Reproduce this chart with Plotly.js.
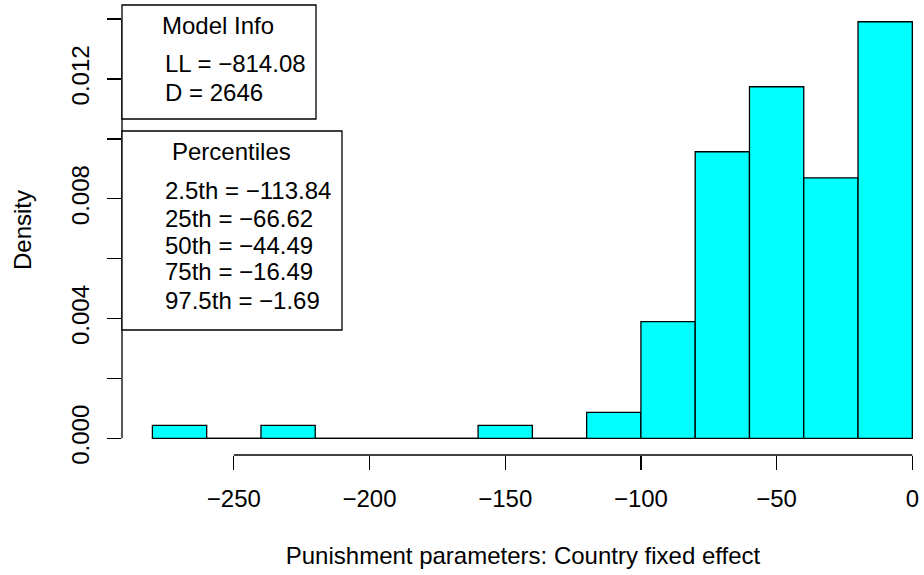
<!DOCTYPE html>
<html>
<head>
<meta charset="utf-8">
<script src="https://cdn.plot.ly/plotly-3.0.1.min.js"></script>
<style>
  html, body { margin: 0; padding: 0; background: #ffffff; overflow: hidden; }
  #chart { width: 924px; height: 575px; }
</style>
</head>
<body>
<div id="chart"></div>
<script>
// ---- Data ----
var binStarts = [-280, -260, -240, -220, -200, -180, -160, -140, -120, -100, -80, -60, -40, -20];
var binWidth = 20;
var densities = [0.000435, 0, 0.000435, 0, 0, 0, 0.000435, 0, 0.00087, 0.0039, 0.00957, 0.01174, 0.0087, 0.01391];

var xTickVals = [-250, -200, -150, -100, -50, 0];
var xTickText = ["\u2212250", "\u2212200", "\u2212150", "\u2212100", "\u221250", "0"];
var yTickVals = [0, 0.002, 0.004, 0.006, 0.008, 0.010, 0.012, 0.014];
var yTickText = ["0.000", "", "0.004", "", "0.008", "", "0.012", ""];

var modelInfoTitle = "Model Info";
var modelInfoLines = ["LL = \u2212814.08", "D = 2646"];
var percTitle = "Percentiles";
var percLines = ["2.5th = \u2212113.84", "25th = \u221266.62", "50th = \u221244.49", "75th = \u221216.49", "97.5th = \u22121.69"];

var xTitle = "Punishment parameters: Country fixed effect";
var yTitle = "Density";

// ---- Layout geometry (pixels) ----
var W = 924, H = 575;
var L = 122, R = 0, T = 5, B = 120;
var plotW = W - L - R, plotH = H - T - B;
function px(xp) { return (xp - L) / plotW; }
function py(yp) { return (H - B - yp) / plotH; }

var FONT = "Liberation Sans, Arial, Helvetica, sans-serif";
var FS = 24;

var centers = binStarts.map(function (s) { return s + binWidth / 2; });

var trace = {
  type: "bar",
  x: centers,
  y: densities,
  width: binStarts.map(function () { return binWidth; }),
  marker: { color: "#00FFFF", line: { color: "#000000", width: 1.3 } },
  hoverinfo: "x+y",
  showlegend: false
};

var shapes = [];
// baseline under all bins (zero-height bins drawn as flat outline)
shapes.push({ type: "line", xref: "x", yref: "y", x0: binStarts[0], x1: binStarts[binStarts.length - 1] + binWidth, y0: 0, y1: 0,
  line: { color: "#000", width: 1.3 }, layer: "below" });
// y axis line (from 0 to top tick)
shapes.push({ type: "line", xref: "paper", yref: "y", x0: 0, x1: 0, y0: yTickVals[0], y1: yTickVals[yTickVals.length - 1],
  line: { color: "#000", width: 1.3 } });
// x axis line (from first to last tick)
shapes.push({ type: "line", xref: "x", yref: "paper", x0: xTickVals[0], x1: xTickVals[xTickVals.length - 1], y0: 0, y1: 0,
  line: { color: "#000", width: 1.3 } });
// legend boxes
shapes.push({ type: "rect", xref: "paper", yref: "paper", x0: px(122), x1: px(316), y0: py(119), y1: py(5),
  line: { color: "#000", width: 1.3 }, fillcolor: "rgba(255,255,255,1)" });
shapes.push({ type: "rect", xref: "paper", yref: "paper", x0: px(122), x1: px(342), y0: py(330), y1: py(131),
  line: { color: "#000", width: 1.3 }, fillcolor: "rgba(255,255,255,1)" });

var annotations = [];
function addText(text, xpix, ypix, anchor) {
  annotations.push({ text: text, xref: "paper", yref: "paper", x: px(xpix), y: py(ypix),
    xanchor: anchor, yanchor: "middle", showarrow: false, font: { family: FONT, size: FS, color: "#000" } });
}
addText(modelInfoTitle, 218, 26, "center");
var miY = [63, 92];
modelInfoLines.forEach(function (t, i) { addText(t, 163, miY[i], "left"); });
addText(percTitle, 231, 151, "center");
var pcY = [190, 218, 245, 272, 300];
percLines.forEach(function (t, i) { addText(t, 163, pcY[i], "left"); });

var xRange0 = -291.2;
var pxPerUnit = 2.714;
var xRange1 = xRange0 + plotW / pxPerUnit;

var layout = {
  width: W, height: H,
  margin: { l: L, r: R, t: T, b: B, pad: 0 },
  paper_bgcolor: "#fff", plot_bgcolor: "#fff",
  font: { family: FONT, size: FS, color: "#000" },
  bargap: 0,
  xaxis: {
    range: [xRange0, xRange1],
    tickmode: "array", tickvals: xTickVals, ticktext: xTickText,
    ticks: "outside", ticklen: 14, tickwidth: 1.3, tickcolor: "#000",
    ticklabelstandoff: 8,
    showline: false, showgrid: false, zeroline: false,
    tickfont: { family: FONT, size: FS, color: "#000" },
    title: { text: xTitle, font: { family: FONT, size: FS, color: "#000" }, standoff: 36 },
    automargin: false, fixedrange: true
  },
  yaxis: {
    range: [-0.000556, 0.01447],
    tickmode: "array", tickvals: yTickVals, ticktext: yTickText,
    tickangle: -90,
    ticks: "outside", ticklen: 14, tickwidth: 1.3, tickcolor: "#000",
    ticklabelstandoff: 8,
    showline: false, showgrid: false, zeroline: false,
    tickfont: { family: FONT, size: FS, color: "#000" },
    title: { text: yTitle, font: { family: FONT, size: FS, color: "#000" }, standoff: 29 },
    automargin: false, fixedrange: true
  },
  shapes: shapes,
  annotations: annotations
};

Plotly.newPlot("chart", [trace], layout, { displayModeBar: false, staticPlot: true });
</script>
</body>
</html>
